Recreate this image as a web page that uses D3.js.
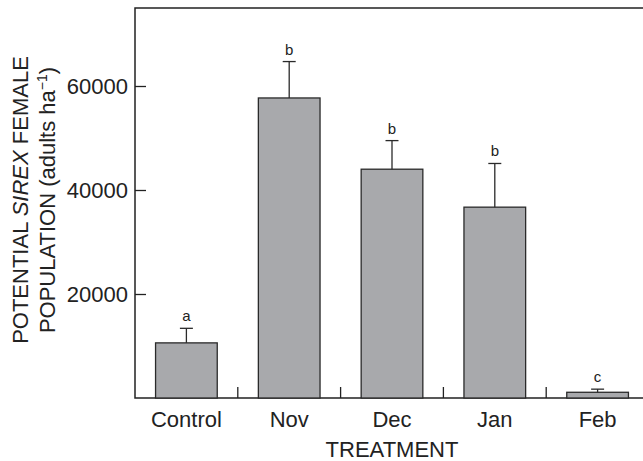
<!DOCTYPE html>
<html>
<head>
<meta charset="utf-8">
<script src="https://cdn.jsdelivr.net/npm/d3@7"></script>
<style>
  html, body { margin: 0; padding: 0; background: #fff; }
  svg { display: block; font-family: 'Liberation Sans', Arial, sans-serif; }
</style>
</head>
<body>
<svg id="chart" width="643" height="461"></svg>
<script>
// data
const categories = ['Control', 'Nov', 'Dec', 'Jan', 'Feb']
const means = [10600, 57700, 44000, 36700, 1100]
const upperErr = [13400, 64700, 49500, 45100, 1700]
const letters = ['a', 'b', 'b', 'b', 'c']
const yTicks = [0, 20000, 40000, 60000]

const svg = d3.select('#chart')
const ink = '#222'

const plot = { left: 135, right: 649, top: 8, bottom: 398 }

// ------------------
// Scales
// ------------------
const x = d3.scaleBand()
  .domain(categories)
  .range([plot.left, plot.right])
  .paddingInner(0.4)
  .paddingOuter(0.2)

const y = d3.scaleLinear()
  .domain([0, 75000])
  .range([plot.bottom, plot.top])

// ------------------
// Frame (left, top, bottom; right side runs off the page)
// ------------------
svg.append('path')
  .attr('d', `M${plot.right},${plot.top}H${plot.left}V${plot.bottom}H${plot.right}`)
  .attr('fill', 'none')
  .attr('stroke', ink)
  .attr('stroke-width', 1.5)

// ------------------
// Y axis, ticks pointing in
// ------------------
const yAxis = svg.append('g')
  .attr('transform', `translate(${plot.left},0)`)
  .call(d3.axisLeft(y).tickValues(yTicks.filter(d => d > 0)).tickSize(-11).tickPadding(7).tickFormat(d3.format('d')))
yAxis.select('.domain').remove()
yAxis.selectAll('line').attr('stroke', ink).attr('stroke-width', 1.3)
yAxis.selectAll('text')
  .attr('fill', ink)
  .attr('font-size', 22)
  .attr('font-family', 'Liberation Sans, Arial, sans-serif')

// ------------------
// X axis: labels at band centres, ticks at band boundaries
// ------------------
const xAxis = svg.append('g')
  .attr('transform', `translate(0,${plot.bottom})`)
  .call(d3.axisBottom(x).tickSize(0).tickPadding(13))
xAxis.select('.domain').remove()
xAxis.selectAll('text')
  .attr('fill', ink)
  .attr('font-size', 22)
  .attr('font-family', 'Liberation Sans, Arial, sans-serif')

const step = x.step()
svg.append('g')
  .selectAll('line')
  .data(categories.slice(1))
  .join('line')
  .attr('x1', d => x(d) - step * 0.2)
  .attr('x2', d => x(d) - step * 0.2)
  .attr('y1', plot.bottom)
  .attr('y2', plot.bottom - 11)
  .attr('stroke', ink)
  .attr('stroke-width', 1.3)

// ------------------
// Bars
// ------------------
const rows = categories.map((c, i) => ({ c, m: means[i], e: upperErr[i], l: letters[i] }))

svg.append('g')
  .selectAll('rect')
  .data(rows)
  .join('rect')
  .attr('x', d => x(d.c))
  .attr('y', d => y(d.m))
  .attr('width', x.bandwidth())
  .attr('height', d => y(0) - y(d.m))
  .attr('fill', '#a8a9ac')
  .attr('stroke', '#2a2a2a')
  .attr('stroke-width', 1.3)

// error bars (upper only)
const err = svg.append('g').attr('stroke', '#2a2a2a').attr('stroke-width', 1.3)
err.selectAll('.stem')
  .data(rows)
  .join('line')
  .attr('class', 'stem')
  .attr('x1', d => x(d.c) + x.bandwidth() / 2)
  .attr('x2', d => x(d.c) + x.bandwidth() / 2)
  .attr('y1', d => y(d.m))
  .attr('y2', d => y(d.e))
err.selectAll('.cap')
  .data(rows)
  .join('line')
  .attr('class', 'cap')
  .attr('x1', d => x(d.c) + x.bandwidth() / 2 - 6.5)
  .attr('x2', d => x(d.c) + x.bandwidth() / 2 + 6.5)
  .attr('y1', d => y(d.e))
  .attr('y2', d => y(d.e))

// significance letters
svg.append('g')
  .selectAll('text')
  .data(rows)
  .join('text')
  .attr('x', d => x(d.c) + x.bandwidth() / 2)
  .attr('y', d => y(d.e) - 7)
  .attr('text-anchor', 'middle')
  .attr('font-size', 15)
  .attr('fill', ink)
  .text(d => d.l)

// ------------------
// Axis titles
// ------------------
svg.append('text')
  .attr('x', (plot.left + plot.right) / 2)
  .attr('y', 457)
  .attr('text-anchor', 'middle')
  .attr('font-size', 22)
  .attr('fill', ink)
  .text('TREATMENT')

const yTitle = svg.append('text')
  .attr('transform', 'translate(0,200) rotate(-90)')
  .attr('text-anchor', 'middle')
  .attr('font-size', 22)
  .attr('fill', ink)

const line1 = yTitle.append('tspan').attr('x', 0).attr('y', 28)
line1.append('tspan').text('POTENTIAL ')
line1.append('tspan').attr('font-style', 'italic').text('SIREX')
line1.append('tspan').text(' FEMALE')

const line2 = yTitle.append('tspan').attr('x', 0).attr('y', 55)
line2.append('tspan').text('POPULATION (adults ha')
line2.append('tspan').attr('font-size', 14).attr('dy', -8).text('−1')
line2.append('tspan').attr('dy', 8).text(')')
</script>
</body>
</html>
